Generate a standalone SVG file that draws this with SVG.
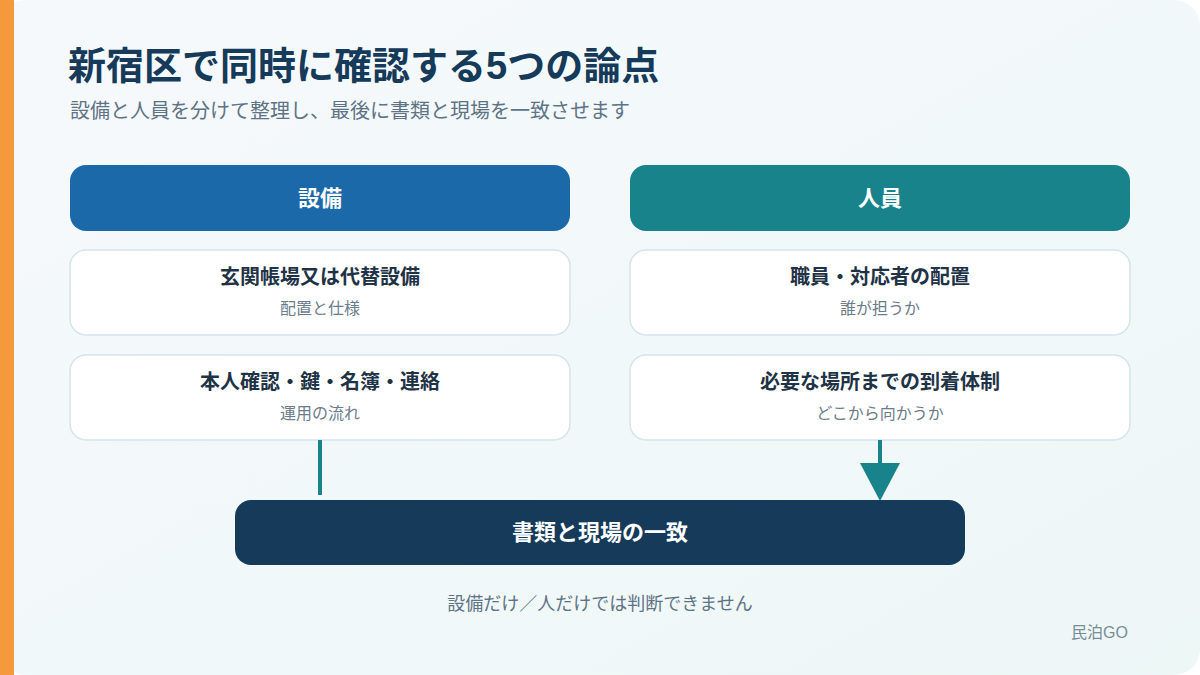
<svg xmlns="http://www.w3.org/2000/svg" width="1200" height="675" viewBox="0 0 1200 675">
<defs>
<linearGradient id="bg" x1="0" y1="0" x2="1" y2="1">
<stop offset="0" stop-color="#f6f9fc"/>
<stop offset="1" stop-color="#edf7f6"/>
</linearGradient>
<style>
text{font-family:"Liberation Sans","Noto Sans CJK JP",sans-serif;text-anchor:middle}
.title{font-size:38px;font-weight:700;fill:#163a5a;text-anchor:start}
.subtitle{font-size:20px;fill:#5f7386;text-anchor:start}
.head{font-size:22px;font-weight:700;fill:#ffffff}
.card{fill:#ffffff;stroke:#d5e4ea;stroke-width:1.5}
.ct{font-size:20px;font-weight:700;fill:#1f3347}
.cs{font-size:16px;fill:#6b7c8b}
.conn{stroke:#18838b;stroke-width:4;fill:none}
.foot{font-size:18px;fill:#5f7386}
.brand{font-size:16px;fill:#7a8c99;text-anchor:end}
</style>
</defs>
<rect x="0" y="0" width="1200" height="675" fill="#ffffff"/>
<rect x="0" y="0" width="1200" height="675" rx="26" fill="url(#bg)"/>
<rect x="0" y="0" width="14" height="675" fill="#f49a3c"/>
<text class="title" x="68" y="79">新宿区で同時に確認する5つの論点</text>
<text class="subtitle" x="70" y="118">設備と人員を分けて整理し、最後に書類と現場を一致させます</text>
<g id="head-equip">
<rect x="70" y="165" width="500" height="66" rx="16" fill="#1b69a8"/>
<text class="head" x="320" y="206">設備</text>
</g>
<g id="head-staff">
<rect x="630" y="165" width="500" height="66" rx="16" fill="#18838b"/>
<text class="head" x="880" y="206">人員</text>
</g>
<g id="card-equip-1">
<rect class="card" x="70" y="250" width="500" height="85" rx="16"/>
<text class="ct" x="320" y="284">玄関帳場又は代替設備</text>
<text class="cs" x="320" y="314">配置と仕様</text>
</g>
<g id="card-equip-2">
<rect class="card" x="70" y="355" width="500" height="85" rx="16"/>
<text class="ct" x="320" y="389">本人確認・鍵・名簿・連絡</text>
<text class="cs" x="320" y="419">運用の流れ</text>
</g>
<g id="card-staff-1">
<rect class="card" x="630" y="250" width="500" height="85" rx="16"/>
<text class="ct" x="880" y="284">職員・対応者の配置</text>
<text class="cs" x="880" y="314">誰が担うか</text>
</g>
<g id="card-staff-2">
<rect class="card" x="630" y="355" width="500" height="85" rx="16"/>
<text class="ct" x="880" y="389">必要な場所までの到着体制</text>
<text class="cs" x="880" y="419">どこから向かうか</text>
</g>
<g id="connectors">
<line class="conn" x1="320" y1="440" x2="320" y2="495"/>
<line class="conn" x1="880" y1="440" x2="880" y2="466"/>
<polygon points="860,463 900,463 880,501" fill="#18838b"/>
</g>
<g id="result">
<rect x="235" y="500" width="730" height="65" rx="16" fill="#163a5a"/>
<text class="head" x="600" y="540">書類と現場の一致</text>
</g>
<text class="foot" x="600" y="610">設備だけ／人だけでは判断できません</text>
<text class="brand" x="1128" y="638">民泊GO</text>
</svg>
